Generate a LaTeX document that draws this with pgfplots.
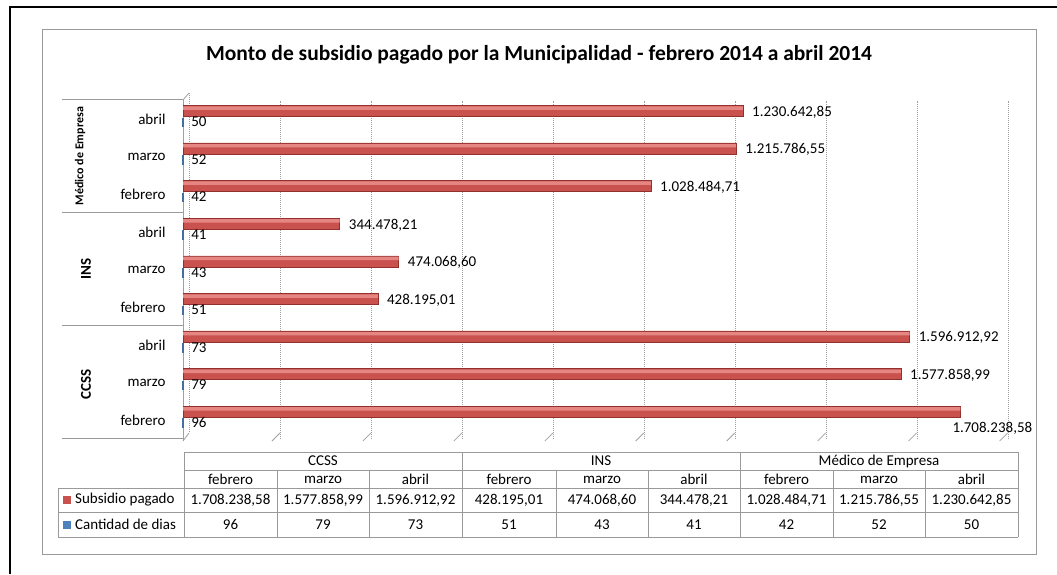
\documentclass[border=0pt]{standalone}
\usepackage{fontspec}
\setmainfont{Carlito}
\usepackage{pgfplots}
\pgfplotsset{compat=1.18}
\usepackage{pgfplotstable}

\definecolor{redbar}{HTML}{C9524F}
\definecolor{redlight}{HTML}{E58683}
\definecolor{reddark}{HTML}{93302D}
\definecolor{bluebar}{HTML}{4F81BD}
\definecolor{gridgray}{HTML}{A0A0A0}
\definecolor{framegray}{HTML}{9A9A9A}
\newcommand\f{\fontsize{15}{18}\selectfont}

\pgfplotstableread{
y x lab dx dy d
0 1708238.58 1.708.238,58 -9 -8 96
1 1577858.99 1.577.858,99 8 7.3 79
2 1596912.92 1.596.912,92 8 7.3 73
3 428195.01 428.195,01 8 7.3 51
4 474068.60 474.068,60 8 7.3 43
5 344478.21 344.478,21 8 7.3 41
6 1028484.71 1.028.484,71 8 7.3 42
7 1215786.55 1.215.786,55 8 7.3 52
8 1230642.85 1.230.642,85 8 7.3 50
}\subsidio

\begin{document}
\begin{tikzpicture}
\begin{scope}[x=1pt,y=-1pt]
\path[use as bounding box] (0,0) rectangle (1057,574);
% outer frame
\draw[black, line width=2.5pt] (10,574) -- (10,7) -- (1057,7);
% chart border
\draw[framegray, line width=1pt] (42,29) rectangle (1036,554);
% title
\node[font=\fontsize{21.5}{24}\selectfont\bfseries] at (539,55) {Monto de subsidio pagado por la Municipalidad - febrero 2014 a abril 2014};
% left wall
\draw[gridgray, line width=0.8pt] (183,100) -- (183,441);
\draw[gridgray, line width=0.8pt, dash pattern=on 1pt off 1pt] (189,93) -- (189,433);
\draw[gridgray, line width=0.8pt] (183,100) -- (189,93);
\draw[gridgray, line width=0.8pt] (183,441) -- (189,433);
\foreach \i in {1,...,9} {\draw[gridgray, line width=0.8pt] ({189+90.95*\i},433) -- ({181+90.95*\i},441);}
% group separators
\foreach \yy in {99,212,325,438} {\draw[framegray, line width=0.8pt] (62,\yy) -- (183,\yy);}
\node[rotate=90, font=\fontsize{12}{14}\selectfont\bfseries] at (80,156) {Médico de Empresa};
\node[rotate=90, font=\fontsize{15}{16}\selectfont\bfseries] at (86,269) {INS};
\node[rotate=90, font=\fontsize{15}{16}\selectfont\bfseries] at (86,384) {CCSS};
\end{scope}

\begin{axis}[
  at={(183pt,-439pt)}, anchor=south west,
  scale only axis, width=819pt, height=338.5pt,
  xmin=0, xmax=1800000, ymin=-0.5, ymax=8.5,
  axis line style={draw=none},
  scaled x ticks=false,
  xtick={200000,400000,600000,800000,1000000,1200000,1400000,1600000,1800000},
  xticklabels={},
  xmajorgrids,
  major grid style={gridgray, line width=0.8pt, dash pattern=on 1pt off 1pt, xshift=6pt},
  ytick={0,1,2,3,4,5,6,7,8},
  yticklabels={febrero,marzo,abril,febrero,marzo,abril,febrero,marzo,abril},
  major tick length=0pt,
  yticklabel style={font=\f, xshift=-14pt},
  clip=false,
]
\addplot[xbar, bar width=11pt, bar shift=8.5pt, draw=reddark, line width=0.5pt, fill=redbar,
  nodes near coords, point meta=explicit symbolic,
  visualization depends on={\thisrow{dx} \as \dx},
  visualization depends on={\thisrow{dy} \as \dy},
  every node near coord/.append style={anchor=west, xshift=\dx pt, yshift=\dy pt, font=\f, text=black, inner sep=1pt}]
  table[x=x, y=y, meta=lab] {\subsidio};
\addplot[xbar, bar width=3.5pt, bar shift=11.3pt, draw=none, fill=redlight]
  table[x=x, y=y] {\subsidio};
\addplot[xbar, bar width=7pt, bar shift=-3pt, fill=bluebar, draw=bluebar!85!black, line width=2.6pt,
  nodes near coords, point meta=explicit symbolic,
  every node near coord/.append style={anchor=west, xshift=6pt, yshift=-2.5pt, font=\f, text=black, inner sep=1pt}]
  table[x=d, y=y, meta=d] {\subsidio};
\end{axis}

\begin{scope}[x=1pt,y=-1pt]
% data table
\begin{scope}[framegray, line width=0.9pt]
\draw (184,452) -- (1018,452);
\draw (184,470) -- (1018,470);
\draw (58,488) -- (1018,488);
\draw (58,512) -- (1018,512);
\draw (58,537) -- (1018,537);
\draw (58,488) -- (58,537);
\foreach \xx in {184,462,740,1018} {\draw (\xx,452) -- (\xx,537);}
\foreach \xx in {277,369,556,648,833,925} {\draw (\xx,470) -- (\xx,537);}
\end{scope}
\node[font=\f] at (323,461) {CCSS};
\node[font=\f] at (601,461) {INS};
\node[font=\f] at (879,461) {Médico de Empresa};
\foreach \xc/\m in {230.5/febrero,323/marzo,415.5/abril,509/febrero,602/marzo,694/abril,786.5/febrero,879/marzo,971.5/abril}
  {\node[font=\f] at (\xc,479.5) {\m};}
\foreach \xc/\v in {230.5/{1.708.238,58},323/{1.577.858,99},415.5/{1.596.912,92},509/{428.195,01},602/{474.068,60},694/{344.478,21},786.5/{1.028.484,71},879/{1.215.786,55},971.5/{1.230.642,85}}
  {\node[font=\f] at (\xc,500) {\v};}
\foreach \xc/\v in {230.5/96,323/79,415.5/73,509/51,602/43,694/41,786.5/42,879/52,971.5/50}
  {\node[font=\f] at (\xc,524.5) {\v};}
\fill[redbar] (63,496) rectangle (71,504);
\fill[bluebar] (63,520.5) rectangle (71,528.5);
\node[font=\f, anchor=west, inner sep=0pt] at (75,500) {Subsidio pagado};
\node[font=\f, anchor=west, inner sep=0pt] at (75,524.5) {Cantidad de dias};
\end{scope}
\end{tikzpicture}
\end{document}
